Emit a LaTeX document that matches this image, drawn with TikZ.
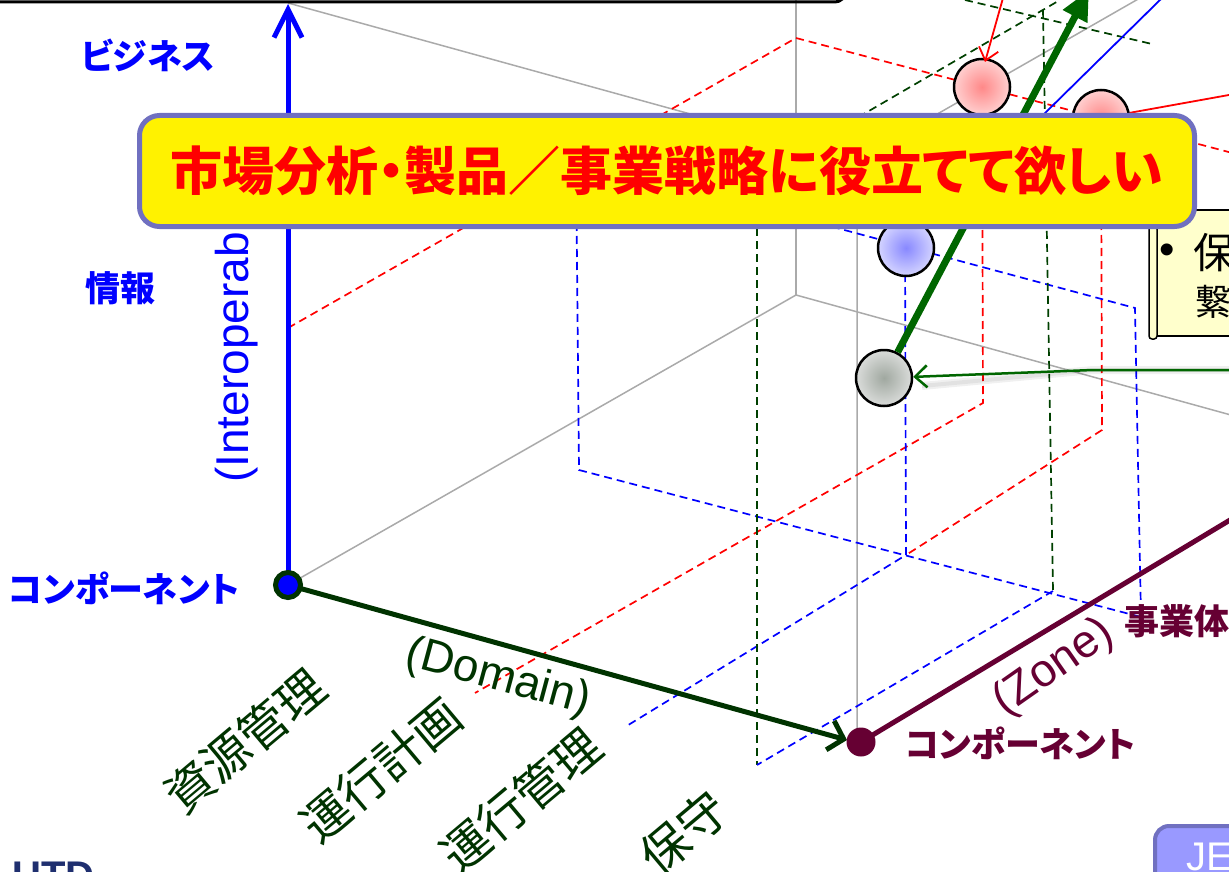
\documentclass[tikz,border=0pt]{standalone}
\usepackage{fontspec}
\setmainfont{Liberation Sans}
\newfontfamily\jp{Noto Sans CJK JP}
\newfontfamily\jpp{Noto Sans CJK JP}[RawFeature=+palt]
\usetikzlibrary{arrows.meta}
\definecolor{axgreen}{HTML}{003300}
\definecolor{dkgreen}{HTML}{006600}
\definecolor{maroon}{HTML}{660033}
\definecolor{cubegray}{HTML}{AAAAAA}
\definecolor{boxborder}{HTML}{7070C0}
\definecolor{callfill}{HTML}{FFFFCC}
\definecolor{jefill}{HTML}{9999FF}
\definecolor{navy}{HTML}{1F2F6F}
\definecolor{dashgreen}{HTML}{004000}
\definecolor{pinkin}{HTML}{FF8888}
\definecolor{pinkout}{HTML}{FFD0D0}
\definecolor{bluein}{HTML}{8888FF}
\definecolor{blueout}{HTML}{D4D4FF}
\definecolor{grayin}{HTML}{A0A8A0}
\definecolor{grayout}{HTML}{DADCDA}
\tikzset{
  cubeline/.style={draw=cubegray, line width=1.5pt},
  rdash/.style={draw=red, line width=1.7pt, dash pattern=on 8pt off 5pt},
  bdash/.style={draw=blue, line width=1.7pt, dash pattern=on 8pt off 5pt},
  gdash/.style={draw=dashgreen, line width=1.7pt, dash pattern=on 8pt off 5pt},
  ball/.style 2 args={circle, minimum size=56pt, inner sep=0pt, draw=black, line width=2.5pt, inner color=#1, outer color=#2},
  bluelab/.style={text=blue, inner sep=0pt, font=\jpp\bfseries\fontsize{35pt}{40pt}\selectfont},
  marlab/.style={text=maroon, inner sep=0pt, font=\jpp\bfseries\fontsize{35pt}{40pt}\selectfont},
  domlab/.style={text=axgreen, inner sep=0pt, rotate=40, font=\jp\fontsize{48pt}{52pt}\selectfont},
  englab/.style={inner sep=0pt, font=\fontsize{46pt}{50pt}\selectfont},
}
\begin{document}
\begin{tikzpicture}[x=1pt,y=-1pt]
\useasboundingbox (0,0) rectangle (1229,872);
\clip (0,0) rectangle (1229,872);
% ---- coordinates
\coordinate (O) at (288,585);
\coordinate (Ytop) at (288,4);
\coordinate (Dend) at (847,740);
\coordinate (Z0) at (861,742);
\coordinate (Zend) at (1240,514);
\coordinate (cB) at (796,295);
\coordinate (cBR) at (1365,452);
\coordinate (cBT) at (796,-5);
\coordinate (cT) at (288,3);
\coordinate (cTD) at (857,160);
\coordinate (cDZ) at (1140,-2);
\coordinate (cDbot) at (857,742);
% red plane
\coordinate (r1) at (288,328);
\coordinate (r2) at (796,38);
\coordinate (r3) at (1240,155);
\coordinate (r4) at (983,403);
\coordinate (r5) at (475,693);
\coordinate (r6) at (1102,430);
% blue plane
\coordinate (b1) at (576,158);
\coordinate (b2) at (579,470);
\coordinate (b3) at (1135,308);
\coordinate (b4) at (1141,617);
\coordinate (b5) at (906,555);
\coordinate (b6) at (625,727);
\coordinate (b7) at (1053,591);
\coordinate (b8) at (757,765);
% green plane
\coordinate (g1) at (757,176);
\coordinate (g2) at (1060,0);
\coordinate (g3) at (1043,10);
\coordinate (g4) at (965,0);
\coordinate (g5) at (1152,44);
% ---- gray cube
\draw[cubeline] (O) -- (cB) -- (cBR);
\draw[cubeline] (cB) -- (cBT);
\draw[cubeline] (cT) -- (cTD) -- (cDbot);
\draw[cubeline] (cTD) -- (cDZ);
% ---- dashed guides
\draw[rdash] (r1) -- (r2) -- (r3);
\draw[rdash] (982,87) -- (r4) -- (r5);
\draw[rdash] (1101,118) -- (r6) -- (b5);
\draw[bdash] (b1) -- (b2) -- (b4) -- (b3) -- cycle;
\draw[bdash] (905,248) -- (b5) -- (b6);
\draw[gdash] (g1) -- (b8);
\draw[gdash] (g1) -- (g2);
\draw[gdash] (g3) -- (b7);
\draw[gdash] (g4) -- (g5);
\draw[bdash] (b7) -- (b8);
% ---- axes
\draw[blue, line width=5pt, -{Straight Barb[length=28pt,width=28pt]}] (O) -- (Ytop);
\draw[axgreen, line width=5pt, -{Straight Barb[length=14pt,width=30pt]}] (O) -- (Dend);
\draw[maroon, line width=5pt] (Z0) -- (Zend);
\node[circle, fill=blue, draw=axgreen, line width=5pt, minimum size=25pt, inner sep=0pt] (orig) at (O) {};
\node[circle, fill=maroon, minimum size=29pt, inner sep=0pt] (zorig) at (Z0) {};
% ---- balls
\node[ball={pinkin}{pinkout}] (p1) at (982,87) {};
\node[ball={pinkin}{pinkout}] (p2) at (1101,118) {};
\node[ball={bluein}{blueout}] (bb) at (906,248) {};
\node[ball={grayin}{grayout}] (gb) at (884,378) {};
% ---- connectors to balls
\coordinate (Gtop) at (1089,-10);
\draw[dkgreen, line width=7pt, -{Triangle[length=30pt,width=26pt]}] (gb) -- (Gtop);
\coordinate (Rtop) at (1003,-2);
\coordinate (Rtip) at (985,62);
\draw[red, line width=1.8pt, -{Straight Barb[length=12pt,width=20pt]}] (Rtop) -- (Rtip);
\coordinate (Btop) at (1162,-2);
\coordinate (Bend) at (1040,118);
\draw[blue, line width=1.8pt] (Btop) -- (Bend);
\coordinate (Rright) at (1240,93);
\draw[red, line width=1.8pt] (p2) -- (Rright);
\coordinate (Gr) at (1240,370);
\coordinate (Gk) at (1093,370);
\coordinate (Gs) at (922,386);
\draw[black, opacity=0.06, line width=8pt, shift={(2,7)}] (Gr) -- (Gk) -- (Gs);
\draw[black, opacity=0.06, line width=4pt, shift={(2,6)}] (Gr) -- (Gk) -- (Gs);
\draw[dkgreen, line width=2.5pt, -{Straight Barb[length=12pt,width=22pt]}] (Gr) -- (Gk) -- (gb);
% ---- labels
\node[bluelab] (lbiz) at (148,55) {ビジネス};
\node[bluelab] (linfo) at (120,288) {情報};
\node[bluelab] (lcomp) at (124,588) {コンポーネント};
\node[englab, text=blue, rotate=90, anchor=west] (linterop) at (237,483) {(Interoperability)};
\node[englab, text=axgreen, rotate=-15] (ldomain) at (498,678) {(Domain)};
\node[englab, text=maroon, rotate=35] (lzone) at (1054,668) {(Zone)};
\node[domlab] (d1) at (245,741) {資源管理};
\node[domlab] (d2) at (381,770) {運行計画};
\node[domlab] (d3) at (521,800) {運行管理};
\node[domlab] (d4) at (684,833) {保守};
\node[marlab, anchor=west] (lzcomp) at (905,743) {コンポーネント};
\node[marlab, anchor=west] (lent) at (1124,621) {事業体};
% ---- callout at right
\filldraw[fill=callfill, draw=black, line width=1.5pt] (1155,210) rectangle (1250,336);
\filldraw[fill=callfill, draw=black, line width=1.5pt, rounded corners=3pt] (1149,226) rectangle (1157,339);
\node[inner sep=0pt, font=\fontsize{44pt}{46pt}\selectfont] (cbul) at (1167,254) {\textbullet};
\node[inner sep=0pt, anchor=west, font=\jp\fontsize{42pt}{44pt}\selectfont] (cho) at (1193,253) {保};
\node[inner sep=0pt, anchor=west, font=\jp\fontsize{36pt}{38pt}\selectfont] (ckei) at (1195,302) {繋};
% ---- yellow message box
\node[draw=boxborder, line width=5pt, fill=yellow, rounded corners=20pt, minimum width=1055pt, minimum height=111pt, inner sep=0pt, text=red, font=\jpp\bfseries\fontsize{52pt}{56pt}\selectfont] (msg) at (667,171) {市場分析・製品／事業戦略に役立てて欲しい};
% ---- frame pieces of the slide
\draw[black, line width=3pt, rounded corners=10pt] (-20,2) -- (845,2) -- (845,-30);
\filldraw[fill=jefill, draw=boxborder, line width=4pt, rounded corners=14pt] (1155,826) rectangle (1300,930);
\node[inner sep=0pt, anchor=north west, text=white, font=\fontsize{40pt}{42pt}\selectfont] (lje) at (1186,843) {JE};
\node[inner sep=0pt, anchor=north west, text=navy, font=\bfseries\fontsize{40pt}{42pt}\selectfont] (lutd) at (12,862) {UTD};
\end{tikzpicture}
\end{document}
